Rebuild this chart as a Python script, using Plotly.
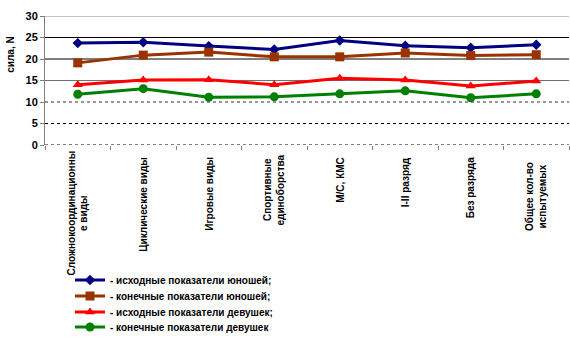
import plotly.graph_objects as go

# Categories (groups of athletes) and measured strength values, N
categories = [
    "Сложнокоординационны<br>е виды",
    "Циклические виды",
    "Игровые виды",
    "Спортивные<br>единоборства",
    "М/С, КМС",
    "I-II разряд",
    "Без разряда",
    "Общее кол-во<br>испытуемых",
]
boys_start = [23.7, 23.9, 23.0, 22.2, 24.3, 23.1, 22.6, 23.3]
boys_end = [19.1, 20.9, 21.6, 20.5, 20.5, 21.4, 20.8, 21.0]
girls_start = [14.0, 15.1, 15.2, 14.0, 15.5, 15.1, 13.7, 14.9]
girls_end = [11.8, 13.1, 11.1, 11.2, 11.9, 12.6, 11.0, 11.9]

series_names = [
    "- исходные показатели юношей;",
    "- конечные показатели юношей;",
    "- исходные показатели девушек;",
    "- конечные показатели девушек",
]
y_ticks = [0, 5, 10, 15, 20, 25, 30]

FONT = "Liberation Sans, Arial, sans-serif"
W, H = 570, 346
PLOT_BOTTOM = 145  # pixel row of the x axis

series = [
    (boys_start, series_names[0], "#000080", "diamond", 8),
    (boys_end, series_names[1], "#993300", "square", 9),
    (girls_start, series_names[2], "#FF0000", "triangle-up", 9),
    (girls_end, series_names[3], "#008000", "circle", 9),
]

fig = go.Figure()

# horizontal grid: solid lines in the upper half, dotted in the lower
grid_style = {
    30: ("#8a8a8a", "solid"),
    25: ("#000000", "solid"),
    20: ("#000000", "solid"),
    15: ("#707070", "solid"),
    10: ("#303030", "dot"),
    5: ("#000000", "dot"),
    0: ("#000000", "dot"),
}
for v in y_ticks:
    color, dash = grid_style[v]
    fig.add_shape(
        type="line", xref="paper", yref="y", x0=0, x1=1, y0=v, y1=v,
        line=dict(color=color, width=1, dash=dash), layer="below",
    )

# each series gets its own legend box so the rows can sit close together
legend_rows = [280, 296, 312, 327]
legend_font = dict(family=FONT, size=10, color="#000000", weight="bold")
legend_layout = {}
for i, ((values, name, color, symbol, size), row) in enumerate(zip(series, legend_rows)):
    key = "legend" if i == 0 else f"legend{i + 1}"
    fig.add_trace(go.Scatter(
        x=categories, y=values, name=name, mode="lines+markers",
        line=dict(color=color, width=3),
        marker=dict(symbol=symbol, size=size, color=color),
        legend=key,
    ))
    legend_layout[key] = dict(
        xref="container", yref="container",
        x=70 / W, y=1 - row / H, xanchor="left", yanchor="middle",
        bgcolor="rgba(0,0,0,0)", font=legend_font, itemwidth=30,
    )

# rotated category labels under the axis; wrapped labels are drawn line by
# line and centred on a common point so short lines sit in the middle
label_font = dict(family=FONT, size=10, color="#000000", weight="bold")
wrapped_centre = {0: 213, 3: 190, 7: 197}  # pixel row of the label centre
LINE_STEP = 12.5
for idx, cat in enumerate(categories):
    lines = cat.split("<br>")
    if len(lines) == 1:
        fig.add_annotation(
            x=cat, y=0, xref="x", yref="y", text=cat, showarrow=False,
            textangle=-90, xanchor="center", yanchor="top", yshift=-10,
            font=label_font,
        )
        continue
    centre = wrapped_centre[idx]
    for j, line in enumerate(lines):
        offset = (j - (len(lines) - 1) / 2) * LINE_STEP
        fig.add_annotation(
            x=cat, y=0, xref="x", yref="y", text=line, showarrow=False,
            textangle=-90, xanchor="center", yanchor="middle",
            yshift=-(centre - PLOT_BOTTOM), xshift=offset - 1,
            font=label_font,
        )

# axis title
fig.add_annotation(
    x=0, y=0.70, xref="paper", yref="paper", xshift=-34,
    text="сила, N", showarrow=False, textangle=-90,
    xanchor="center", yanchor="middle",
    font=dict(family=FONT, size=10, color="#000000", weight="bold"),
)

fig.update_layout(
    width=W, height=H,
    margin=dict(l=45, r=1, t=16, b=H - PLOT_BOTTOM, autoexpand=False),
    paper_bgcolor="white", plot_bgcolor="white",
    showlegend=True,
    xaxis=dict(
        type="category", range=[-0.5, 7.5], tickson="boundaries",
        showticklabels=False, showgrid=False, zeroline=False,
        ticks="outside", ticklen=4, tickcolor="#808080",
        showline=False, fixedrange=True,
    ),
    yaxis=dict(
        range=[0, 30], tickvals=y_ticks, showgrid=False, zeroline=False,
        showline=True, linecolor="#808080", linewidth=1,
        ticks="outside", ticklen=4, tickcolor="#808080",
        tickfont=dict(family=FONT, size=11, color="#000000", weight="bold"),
        fixedrange=True,
    ),
    **legend_layout,
)

fig.write_html("out.html")
